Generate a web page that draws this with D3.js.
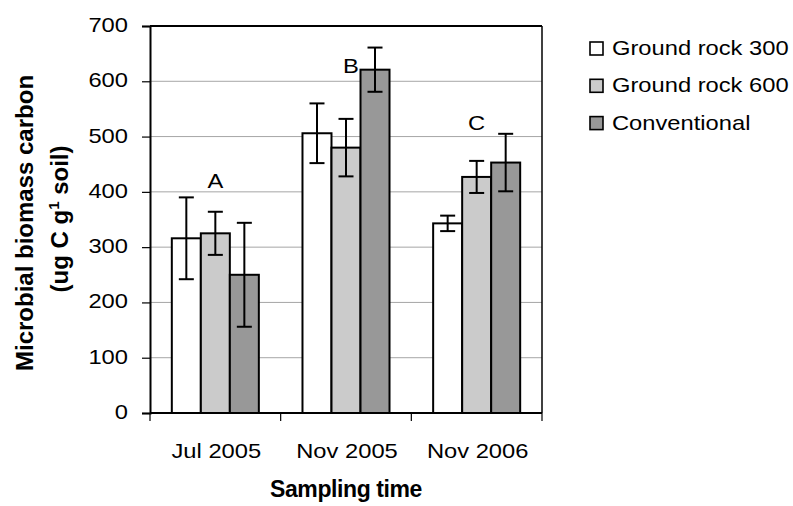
<!DOCTYPE html>
<html>
<head>
<meta charset="utf-8">
<script src="https://cdn.jsdelivr.net/npm/d3@7"></script>
<style>
  body { margin: 0; background: #fff; }
  text { font-family: Arial, "Liberation Sans", sans-serif; fill: #000; }
</style>
</head>
<body>
<div id="chart"></div>
<script>
// sampling times and series
const categories = ["Jul 2005", "Nov 2005", "Nov 2006"]
const seriesNames = ["Ground rock 300", "Ground rock 600", "Conventional"]
const seriesColors = ["#ffffff", "#cbcbcb", "#989898"]

// means per series (one value per category)
const rock300 = [316, 506, 343]
const rock600 = [325, 480, 427]
const conventional = [250, 621, 453]
// error bar half-widths
const rock300Err = [74, 54, 14]
const rock600Err = [39, 52, 29]
const conventionalErr = [94, 40, 52]

const yTicks = [0, 100, 200, 300, 400, 500, 600, 700]

// significance letters: category, value
const letters = ["A", "B", "C"]
const letterCats = ["Jul 2005", "Nov 2005", "Nov 2006"]
const letterValues = [407, 615, 512]

const width = 793
const height = 506
const margin = { top: 26, right: 251, bottom: 93, left: 150 }
const sx = 1.13  // source picture is a little wider than tall

const svg = d3.select("#chart").append("svg")
    .attr("width", width)
    .attr("height", height)

const plotW = width - margin.left - margin.right
const plotH = height - margin.top - margin.bottom
const g = svg.append("g").attr("transform", `translate(${margin.left},${margin.top})`)

const x0 = d3.scaleBand().domain(categories).range([0, plotW]).padding(0)
const x1 = d3.scaleBand().domain(seriesNames)
    .range([x0.bandwidth() * 0.167, x0.bandwidth() * 0.833]).padding(0)
const y = d3.scaleLinear().domain([0, 700]).range([plotH, 0])

const values = [rock300, rock600, conventional]
const errs = [rock300Err, rock600Err, conventionalErr]
const rows = []
categories.forEach((c, i) => {
    seriesNames.forEach((s, j) => {
        rows.push({ cat: c, series: s, value: values[j][i], err: errs[j][i], color: seriesColors[j] })
    })
})

// gridlines
g.selectAll(".grid").data(yTicks.filter(d => d > 0 && d < 700)).enter().append("line")
    .attr("x1", 0).attr("x2", plotW)
    .attr("y1", d => y(d)).attr("y2", d => y(d))
    .attr("stroke", "#a6a6a6").attr("stroke-width", 1)

// plot frame top / right
g.append("line").attr("x1", 0).attr("x2", plotW).attr("y1", 0).attr("y2", 0)
    .attr("stroke", "#000").attr("stroke-width", 2)
g.append("line").attr("x1", plotW).attr("x2", plotW).attr("y1", 0).attr("y2", plotH)
    .attr("stroke", "#000").attr("stroke-width", 1.5)

// bars
g.selectAll(".bar").data(rows).enter().append("rect")
    .attr("x", d => x0(d.cat) + x1(d.series))
    .attr("y", d => y(d.value))
    .attr("width", x1.bandwidth())
    .attr("height", d => plotH - y(d.value))
    .attr("fill", d => d.color)
    .attr("stroke", "#000")
    .attr("stroke-width", 2)

// error bars
const eb = g.selectAll(".err").data(rows).enter().append("g")
    .attr("transform", d => `translate(${x0(d.cat) + x1(d.series) + x1.bandwidth() / 2},0)`)
eb.append("line")
    .attr("x1", 0).attr("x2", 0)
    .attr("y1", d => y(d.value + d.err)).attr("y2", d => y(d.value - d.err))
    .attr("stroke", "#000").attr("stroke-width", 2)
eb.append("line")
    .attr("x1", -7.5).attr("x2", 7.5)
    .attr("y1", d => y(d.value + d.err)).attr("y2", d => y(d.value + d.err))
    .attr("stroke", "#000").attr("stroke-width", 2)
eb.append("line")
    .attr("x1", -7.5).attr("x2", 7.5)
    .attr("y1", d => y(d.value - d.err)).attr("y2", d => y(d.value - d.err))
    .attr("stroke", "#000").attr("stroke-width", 2)

// y axis
const yAxis = g.append("g")
    .call(d3.axisLeft(y).tickValues(yTicks).tickSize(8).tickFormat(d3.format("d")))
yAxis.select(".domain").attr("stroke", "#000").attr("stroke-width", 2)
yAxis.selectAll(".tick line").attr("stroke", "#000").attr("stroke-width", 1.2)
yAxis.selectAll(".tick text")
    .attr("x", null).attr("dy", null)
    .attr("transform", `translate(-22,5.5) scale(${sx},1)`)
    .style("font-size", "21px").style("font-family", "Arial, 'Liberation Sans', sans-serif")
    .attr("text-anchor", "end")

// x axis, ticks sit on band boundaries
const xAxis = g.append("g").attr("transform", `translate(0,${plotH})`)
xAxis.append("line").attr("x1", 0).attr("x2", plotW)
    .attr("stroke", "#000").attr("stroke-width", 2)
const bounds = categories.map(c => x0(c)).concat([plotW])
xAxis.selectAll(".xt").data(bounds).enter().append("line")
    .attr("x1", d => d).attr("x2", d => d)
    .attr("y1", 0).attr("y2", 8)
    .attr("stroke", "#000").attr("stroke-width", 1.2)
xAxis.selectAll(".xl").data(categories).enter().append("text")
    .attr("transform", d => `translate(${x0(d) + x0.bandwidth() / 2 + 1},45) scale(${sx},1)`)
    .attr("text-anchor", "middle")
    .style("font-size", "21px")
    .text(d => d)

// letters
g.selectAll(".sig").data(letters).enter().append("text")
    .attr("transform", (d, i) => {
        const cx = x0(letterCats[i]) + x0.bandwidth() / 2 + (i === 1 ? 5 : 0)
        return `translate(${cx},${y(letterValues[i])}) scale(${sx},1)`
    })
    .attr("text-anchor", "middle")
    .style("font-size", "21px")
    .text(d => d)

// axis titles
svg.append("text")
    .attr("x", margin.left + plotW / 2)
    .attr("y", 497)
    .attr("text-anchor", "middle")
    .style("font-size", "23px").style("font-weight", "bold")
    .style("letter-spacing", "-0.4px")
    .text("Sampling time")

const yt = svg.append("g")
yt.append("text")
    .attr("transform", "translate(33,223) rotate(-90)")
    .attr("text-anchor", "middle")
    .style("font-size", "24px").style("font-weight", "bold")
    .text("Microbial biomass carbon")
const yt2 = yt.append("text")
    .attr("transform", "translate(68,219) rotate(-90)")
    .attr("text-anchor", "middle")
    .style("font-size", "24px").style("font-weight", "bold")
yt2.append("tspan").text("(ug C g")
yt2.append("tspan").attr("dy", -9).style("font-size", "15px").text("1")
yt2.append("tspan").attr("dy", 9).text(" soil)")

// legend
const legend = svg.append("g").attr("transform", "translate(590,42)")
const li = legend.selectAll(".li").data(seriesNames).enter().append("g")
    .attr("transform", (d, i) => `translate(0,${i * 37.3})`)
li.append("rect")
    .attr("width", 13).attr("height", 13)
    .attr("fill", (d, i) => seriesColors[i])
    .attr("stroke", "#000").attr("stroke-width", 1.6)
li.append("text")
    .attr("transform", `translate(22,13) scale(${sx},1)`)
    .style("font-size", "21px")
    .text(d => d)
</script>
</body>
</html>
